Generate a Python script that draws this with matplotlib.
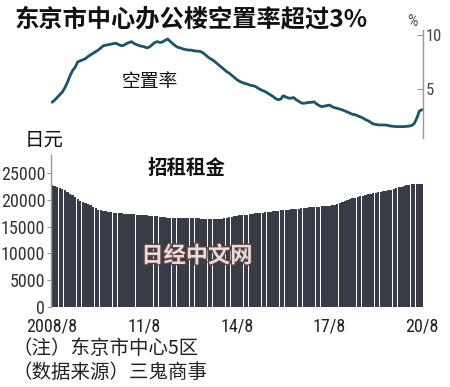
import matplotlib
matplotlib.use("Agg")
import matplotlib.pyplot as plt
import matplotlib.patheffects as pe

# ---- data (monthly, 2008/8 .. 2020/8) ----
vacancy = [
    3.76, 3.95, 4.2, 4.45, 4.7, 5.1, 5.6, 6.2, 6.7, 7.0, 7.5, 7.6,
    7.7, 7.8, 8.0, 8.15, 8.3, 8.45, 8.6, 8.8, 9.0, 9.05, 9.1, 9.15,
    9.2, 9.23, 9.1, 9.0, 9.05, 9.2, 9.3, 9.38, 9.2, 9.1, 9.0, 8.95,
    8.9, 8.8, 8.9, 9.1, 9.3, 9.38, 9.3, 9.35, 9.5, 9.63, 9.4, 9.2,
    9.0, 8.85, 8.8, 8.7, 8.65, 8.6, 8.6, 8.55, 8.5, 8.5, 8.45, 8.3,
    8.1, 7.9, 7.75, 7.6, 7.4, 7.2, 7.0, 6.8, 6.6, 6.45, 6.25, 6.05,
    5.85, 5.7, 5.6, 5.5, 5.45, 5.35, 5.3, 5.25, 5.1, 4.95, 4.85, 4.74,
    4.6, 4.45, 4.3, 4.1, 4.0, 4.05, 4.37, 4.25, 4.15, 4.13, 4.2, 4.0,
    3.85, 3.7, 3.66, 3.7, 3.75, 3.75, 3.8, 3.6, 3.45, 3.35, 3.4, 3.45,
    3.5, 3.35, 3.25, 3.2, 3.13, 3.05, 2.95, 2.85, 2.75, 2.64, 2.6, 2.5,
    2.4, 2.3, 2.15, 2.05, 1.9, 1.75, 1.7, 1.66, 1.65, 1.65, 1.65, 1.6,
    1.55, 1.52, 1.5, 1.5, 1.5, 1.5, 1.52, 1.55, 1.6, 1.8, 2.3, 2.95,
    3.07,
]
rent = [
    22800, 22650, 22450, 22250, 22050, 21800, 21500, 21200, 20930, 20600, 20250, 19900,
    19650, 19450, 19250, 19000, 18750, 18450, 18200, 18050, 17950, 17850, 17750, 17700,
    17650, 17600, 17550, 17500, 17450, 17400, 17350, 17320, 17300, 17250, 17200, 17180,
    17150, 17100, 17080, 17050, 17000, 16950, 16900, 16850, 16780, 16700, 16680, 16680,
    16680, 16670, 16660, 16650, 16650, 16650, 16620, 16600, 16580, 16550, 16520, 16480,
    16450, 16430, 16420, 16400, 16400, 16420, 16450, 16550, 16700, 16800, 16900, 17000,
    17050, 17100, 17150, 17200, 17250, 17300, 17400, 17480, 17520, 17580, 17620, 17680,
    17730, 17800, 17850, 17920, 17980, 18030, 18080, 18130, 18180, 18230, 18280, 18320,
    18400, 18450, 18500, 18550, 18600, 18650, 18680, 18700, 18740, 18780, 18820, 18880,
    18950, 19020, 19100, 19190, 19350, 19550, 19750, 19950, 20150, 20310, 20450, 20580,
    20700, 20820, 20940, 21060, 21150, 21250, 21350, 21450, 21550, 21620, 21700, 21800,
    21900, 22050, 22200, 22350, 22500, 22650, 22750, 22850, 22950, 23000, 23000, 22950,
    22950,
]
month_idx = list(range(len(rent)))
xtick_pos = [0, 36, 72, 108, 144]
xtick_labels = ["2008/8", "11/8", "14/8", "17/8", "20/8"]
vac_ticks = [5, 10]
rent_ticks = [0, 5000, 10000, 15000, 20000, 25000]

title = "东京市中心办公楼空置率超过3%"
CJK = ["Noto Sans CJK SC", "DejaVu Sans"]
NUM = ["Liberation Sans Narrow", "Roboto Condensed", "DejaVu Sans Condensed",
       "Roboto", "DejaVu Sans"]

W, H = 450, 387
fig = plt.figure(figsize=(W / 100, H / 100), dpi=100)
fig.patch.set_facecolor("white")

def fx(px):
    return px / W

def fy(py):
    return 1 - py / H

x0, x1 = 50.7, 423.3
# ---- top: vacancy line ----
ax1 = fig.add_axes([fx(x0), fy(138), fx(x1) - fx(x0), (138 - 30) / H])
ax1.plot(month_idx, vacancy, color="#1d5468", lw=2.0, solid_capstyle="round")
ax1.set_xlim(-0.5, 144.5)
ax1.set_ylim(0.445, 10.46)
for s in ["top", "left", "bottom"]:
    ax1.spines[s].set_visible(False)
ax1.spines["right"].set_color("#999999")
ax1.spines["right"].set_linewidth(1.0)
ax1.yaxis.tick_right()
ax1.set_yticks(vac_ticks)
ax1.set_yticklabels([str(v) for v in vac_ticks], family=NUM, fontsize=12,
                    color="#444444", stretch="condensed")
ax1.tick_params(axis="y", direction="in", length=4, width=0.8, color="#999999", pad=2)
ax1.set_xticks([])
ax1.patch.set_alpha(0)

# ---- bottom: rent bars ----
ax2 = fig.add_axes([fx(x0), fy(306.7), fx(x1) - fx(x0), (306.7 - 155) / H])
ax2.bar(month_idx, rent, width=0.9, color="#383c46", edgecolor="none")
ax2.set_xlim(-0.5, 144.5)
ax2.set_ylim(0, 28430)
for s in ["top", "right", "bottom"]:
    ax2.spines[s].set_visible(False)
ax2.spines["left"].set_color("#999999")
ax2.spines["left"].set_linewidth(1.0)
ax2.set_yticks(rent_ticks)
ax2.set_yticklabels([str(v) for v in rent_ticks], family=NUM, fontsize=13,
                    color="#333333", stretch="condensed")
ax2.tick_params(axis="y", direction="out", length=3, width=0.8, color="#999999", pad=1)
ax2.set_xticks(xtick_pos)
ax2.set_xticklabels(xtick_labels, family=NUM, fontsize=13, color="#222222",
                    stretch="condensed")
ax2.tick_params(axis="x", length=0, pad=8)
ax2.patch.set_alpha(0)

# ---- texts ----
fig.text(fx(15), fy(19), title, family=CJK, fontsize=17.5, fontweight="bold",
         color="#111111", ha="left", va="center")
fig.text(fx(412), fy(21), "%", family=NUM, fontsize=12, color="#555555",
         ha="center", va="center")
fig.text(fx(150), fy(81), "空置率", family=CJK, fontsize=13.5, color="#111111",
         ha="center", va="center")
fig.text(fx(44), fy(140), "日元", family=CJK, fontsize=14, color="#111111",
         ha="center", va="center")
fig.text(fx(187), fy(168), "招租租金", family=CJK, fontsize=14, fontweight="bold",
         color="#111111", ha="center", va="center")
wm = fig.text(fx(197), fy(256), "日经中文网", family=CJK, fontsize=16, fontweight="bold",
              color="#e8dcdc", ha="center", va="center")
wm.set_path_effects([pe.withStroke(linewidth=2, foreground="#5a4040")])
fig.text(fx(12), fy(349), "（注）东京市中心5区", family=CJK, fontsize=14,
         color="#222222", ha="left", va="center")
fig.text(fx(12), fy(373), "（数据来源）三鬼商事", family=CJK, fontsize=14,
         color="#222222", ha="left", va="center")

fig.savefig("out.png", dpi=100, facecolor="white")
